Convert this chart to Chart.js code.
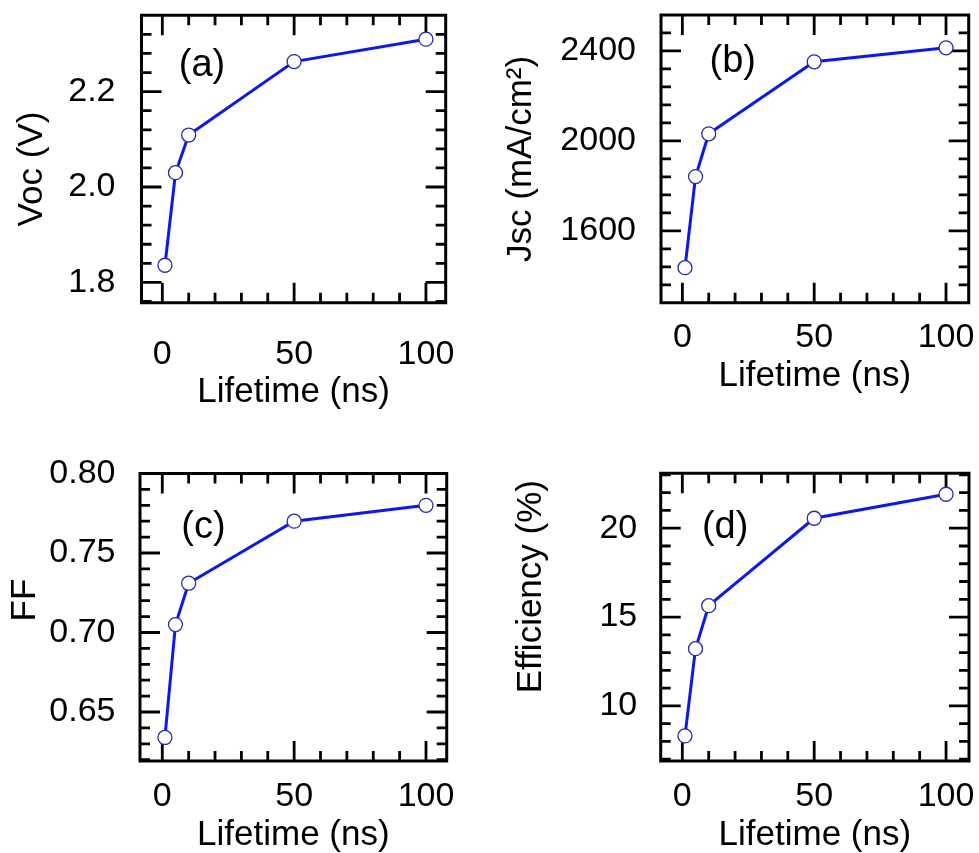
<!DOCTYPE html>
<html>
<head>
<meta charset="utf-8">
<title>Lifetime dependence</title>
<script src="https://cdn.jsdelivr.net/npm/chart.js@4.4.0/dist/chart.umd.min.js"></script>
<style>
  html, body { margin: 0; padding: 0; background: #fff; overflow: hidden; }
  #wrap { position: relative; width: 979px; height: 853px; }
  .panel { position: absolute; }
  .panel canvas { display: block; }
</style>
</head>
<body>
<div id="wrap">
  <div class="panel" style="left:0px;top:0px"><canvas id="chartA" width="490" height="420"></canvas></div>
  <div class="panel" style="left:490px;top:0px"><canvas id="chartB" width="489" height="420"></canvas></div>
  <div class="panel" style="left:0px;top:430px"><canvas id="chartC" width="490" height="423"></canvas></div>
  <div class="panel" style="left:490px;top:430px"><canvas id="chartD" width="489" height="423"></canvas></div>
</div>
<script>
// carrier lifetime (ns) used for every panel
const lifetimeNs = [1, 5, 10, 50, 100];

// values
const vocValues = [1.836, 2.030, 2.109, 2.263, 2.310];
const jscValues = [1436, 1841, 2031, 2351, 2413];
const ffValues = [0.634, 0.705, 0.731, 0.770, 0.780];
const effValues = [8.31, 13.22, 15.64, 20.56, 21.91];

// tick labels
const xMajorTicks = [0, 50, 100];
const vocMajorTicks = [1.8, 2.0, 2.2];
const jscMajorTicks = [1600, 2000, 2400];
const ffMajorTicks = [0.65, 0.70, 0.75, 0.80];
const effMajorTicks = [10, 15, 20];

const FONT = "'Liberation Sans', Arial, sans-serif";
const TEXT = '#000000';
const TICK_SIZE = 34;
const TITLE_SIZE = 35;

// frame with inward major/minor ticks on all four sides
const frameTicks = {
  id: 'frameTicks',
  beforeDatasetsDraw(chart, args, opts) {
    const { ctx, chartArea: a, scales: { x, y } } = chart;
    const gap = opts.xAxisGap || 0;
    const axisY = a.bottom + gap;
    ctx.save();
    ctx.strokeStyle = '#000';
    ctx.lineWidth = 3;
    ctx.lineCap = 'square';
    ctx.beginPath();
    if (gap > 0) {
      ctx.moveTo(a.left, a.bottom);
      ctx.lineTo(a.left, a.top);
      ctx.lineTo(a.right, a.top);
      ctx.lineTo(a.right, a.bottom);
      ctx.moveTo(a.left, axisY);
      ctx.lineTo(a.right, axisY);
    } else {
      ctx.rect(a.left, a.top, a.right - a.left, a.bottom - a.top);
    }
    ctx.stroke();

    ctx.lineWidth = 2.8;
    ctx.lineCap = 'butt';
    ctx.beginPath();
    const each = (scale, step, majors, fn) => {
      const k0 = Math.ceil(scale.min / step - 1e-6);
      for (let k = k0; k * step <= scale.max + 1e-9; k++) {
        const v = k * step;
        const isMajor = majors.some(m => Math.abs(m - v) < step * 1e-3);
        fn(scale.getPixelForValue(v), isMajor ? opts.majorLen : opts.minorLen);
      }
    };
    each(x, opts.xStep, opts.xMajors, (px, len) => {
      ctx.moveTo(px, axisY); ctx.lineTo(px, axisY - len);
      ctx.moveTo(px, a.top); ctx.lineTo(px, a.top + len);
    });
    each(y, opts.yStep, opts.yMajors, (py, len) => {
      if (py < a.top + 1 || py > a.bottom - 1) return;
      ctx.moveTo(a.left, py); ctx.lineTo(a.left + len, py);
      ctx.moveTo(a.right, py); ctx.lineTo(a.right - len, py);
    });
    ctx.stroke();
    ctx.restore();
  }
};

// (a), (b)... and the rotated y title, placed relative to the plot area
const panelText = {
  id: 'panelText',
  afterDraw(chart, args, opts) {
    const { ctx, chartArea: a } = chart;
    ctx.save();
    ctx.fillStyle = TEXT;
    ctx.textAlign = 'center';
    ctx.textBaseline = 'middle';
    ctx.font = '38px ' + FONT;
    ctx.fillText(opts.label, a.left + opts.labelAt[0] * (a.right - a.left), a.top + opts.labelAt[1] * (a.bottom - a.top));
    ctx.translate(opts.titleX, a.top + opts.titleFy * (a.bottom - a.top));
    ctx.rotate(-Math.PI / 2);
    ctx.font = TITLE_SIZE + 'px ' + FONT;
    ctx.fillText(opts.title, 0, 0);
    ctx.restore();
  }
};

function makePanel(id, cfg) {
  return new Chart(document.getElementById(id), {
    type: 'line',
    data: {
      datasets: [{
        data: lifetimeNs.map((t, i) => ({ x: t, y: cfg.values[i] })),
        borderColor: '#0d1ae6',
        borderWidth: 3,
        pointRadius: 7,
        pointBackgroundColor: '#ffffff',
        pointBorderColor: '#2a2aa0',
        pointBorderWidth: 1.3,
        tension: 0,
        clip: false
      }]
    },
    options: {
      responsive: false,
      animation: false,
      events: [],
      layout: { padding: cfg.pad },
      plugins: {
        legend: { display: false },
        tooltip: { enabled: false },
        frameTicks: {
          xAxisGap: cfg.xGap || 0,
          majorLen: 20, minorLen: 10,
          xStep: 10, xMajors: xMajorTicks,
          yStep: cfg.yStep, yMajors: cfg.yTicks
        },
        panelText: {
          label: cfg.label, labelAt: cfg.labelAt,
          title: cfg.yTitle, titleX: cfg.yTitleX, titleFy: cfg.yTitleFy
        }
      },
      scales: {
        x: {
          type: 'linear',
          min: cfg.xRange[0], max: cfg.xRange[1],
          grid: { display: false, drawTicks: false },
          border: { display: false },
          afterBuildTicks: s => { s.ticks = xMajorTicks.map(v => ({ value: v })); },
          afterFit: s => { s.height = cfg.xHeight; s.paddingLeft = 0; s.paddingRight = 0; },
          ticks: {
            color: TEXT, font: { family: FONT, size: TICK_SIZE },
            padding: cfg.xTickPad, maxRotation: 0, autoSkip: false,
            callback: v => String(v)
          },
          title: {
            display: true, text: 'Lifetime (ns)', color: TEXT,
            font: { family: FONT, size: TITLE_SIZE },
            padding: { top: 0, bottom: cfg.xTitlePad }
          }
        },
        y: {
          type: 'linear',
          min: cfg.yRange[0], max: cfg.yRange[1],
          grid: { display: false, drawTicks: false },
          border: { display: false },
          afterBuildTicks: s => { s.ticks = cfg.yTicks.map(v => ({ value: v })); },
          afterFit: s => { s.width = cfg.yWidth; s.paddingTop = 0; s.paddingBottom = 0; },
          ticks: {
            color: TEXT, font: { family: FONT, size: TICK_SIZE },
            padding: cfg.yTickPad, autoSkip: false,
            callback: v => Number(v).toFixed(cfg.yDecimals)
          },
          title: { display: false }
        }
      }
    },
    plugins: [frameTicks, panelText]
  });
}

makePanel('chartA', {
  values: vocValues, yTitle: 'Voc (V)', yTicks: vocMajorTicks, yStep: 0.04, yDecimals: 1,
  xRange: [-7.9, 107.5], yRange: [1.7575, 2.36],
  pad: { left: 12.7, top: 15.3, right: 44.3, bottom: 8.2 },
  yWidth: 128.8, xHeight: 109.1, xTickPad: 31.9, xTitlePad: -1.2, yTickPad: 26,
  yTitleX: 32.5, yTitleFy: 0.535,
  label: '(a)', labelAt: [0.199, 0.173]
});

makePanel('chartB', {
  values: jscValues, yTitle: 'Jsc (mA/cm²)', yTicks: jscMajorTicks, yStep: 80, yDecimals: 0,
  xRange: [-8.1, 108.6], yRange: [1280, 2559],
  pad: { left: 11.9, top: 15, right: 10.3, bottom: 23.5 },
  yWidth: 159.1, xHeight: 93.7, xTickPad: 14.8, xTitlePad: -1.2, yTickPad: 25,
  yTitleX: 31.7, yTitleFy: 0.5,
  label: '(b)', labelAt: [0.233, 0.16]
});

makePanel('chartC', {
  values: ffValues, yTitle: 'FF', yTicks: ffMajorTicks, yStep: 0.01, yDecimals: 2,
  xRange: [-8.45, 107.85], yRange: [0.6192, 0.80],
  pad: { left: 5.2, top: 43.5, right: 43.3, bottom: 0 },
  yWidth: 134.8, xHeight: 92, xTickPad: 15.3, xTitlePad: -3, yTickPad: 24.5,
  yTitleX: 25, yTitleFy: 0.44,
  label: '(c)', labelAt: [0.207, 0.188]
});

makePanel('chartD', {
  values: effValues, yTitle: 'Efficiency (%)', yTicks: effMajorTicks, yStep: 1, yDecimals: 0,
  xRange: [-8.2, 108.7], yRange: [6.9, 23.09],
  pad: { left: 21.9, top: 43.3, right: 10, bottom: 0 },
  yWidth: 148.8, xHeight: 92, xTickPad: 15.3, xTitlePad: -3, yTickPad: 23.5,
  yTitleX: 41.7, yTitleFy: 0.394,
  label: '(d)', labelAt: [0.209, 0.188]
});
</script>
</body>
</html>
